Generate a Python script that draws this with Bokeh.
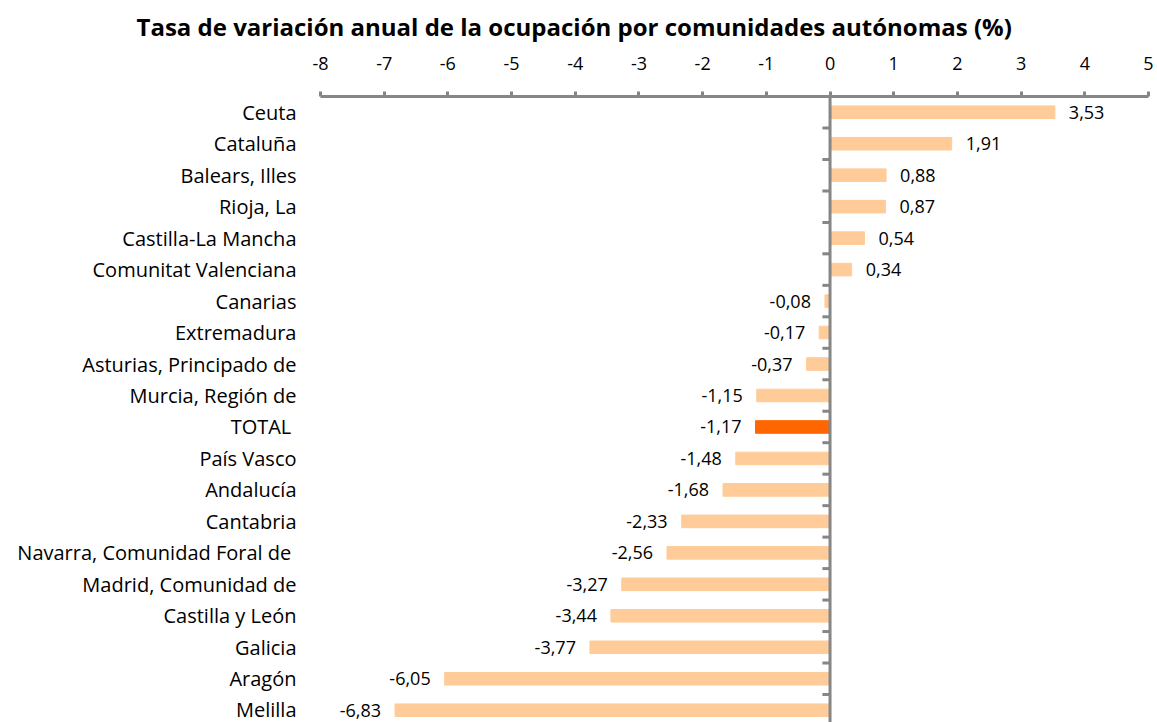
from bokeh.plotting import figure
from bokeh.models import ColumnDataSource, Range1d, FixedTicker, Span, Title
from bokeh.core.properties import value
from bokeh.embed import file_html
from bokeh.resources import INLINE

categories = ["Ceuta", "Cataluña", "Balears, Illes", "Rioja, La", "Castilla-La Mancha",
              "Comunitat Valenciana", "Canarias", "Extremadura", "Asturias, Principado de",
              "Murcia, Región de", "TOTAL ", "País Vasco", "Andalucía", "Cantabria",
              "Navarra, Comunidad  Foral de", "Madrid, Comunidad de", "Castilla y León",
              "Galicia", "Aragón", "Melilla"]
values = [3.53, 1.91, 0.88, 0.87, 0.54, 0.34, -0.08, -0.17, -0.37, -1.15, -1.17,
          -1.48, -1.68, -2.33, -2.56, -3.27, -3.44, -3.77, -6.05, -6.83]
x_ticks = [-8, -7, -6, -5, -4, -3, -2, -1, 0, 1, 2, 3, 4, 5]

LIGHT = "#FFCC99"
DARK = "#FF6600"
FONT = "Open Sans"

n = len(categories)
pos = list(range(n))
colors = [DARK if c.strip() == "TOTAL" else LIGHT for c in categories]
labels = [f"{v:.2f}".replace(".", ",") for v in values]
aligns = ["left" if v >= 0 else "right" for v in values]
offsets = [14 if v >= 0 else -14 for v in values]

src = ColumnDataSource(dict(y=pos, v=values, color=colors, label=labels,
                            align=aligns, off=offsets))

p = figure(width=1153, height=722, output_backend="svg", toolbar_location=None,
           x_range=Range1d(-8, 5), y_range=Range1d(19.39, -0.5),
           x_axis_location="above", min_border_left=320, min_border_right=5,
           min_border_top=0, min_border_bottom=0)

p.title = Title(text="Tasa de variación anual de la ocupación por comunidades autónomas (%)",
                text_font=FONT, text_font_size="24px", text_font_style="bold",
                align="left", vertical_align="top", offset=-184, standoff=18,
                text_color="black")

p.hbar(y="y", right="v", left=0, height=0.4, color="color", source=src)
p.text(x="v", y="y", text="label", x_offset="off", text_align="align",
       text_baseline="middle", text_font=value(FONT), text_font_size="18px",
       text_color="black", source=src)

# zero axis line with category separator ticks
p.add_layout(Span(location=0, dimension="height", line_color="#868686", line_width=3))
bounds = [i + 0.5 for i in range(-1, n)]
p.segment(x0=[-0.12] * len(bounds), x1=[0] * len(bounds), y0=bounds, y1=bounds,
          line_color="#868686", line_width=3)

xa = p.xaxis[0]
xa.ticker = FixedTicker(ticks=x_ticks)
xa.major_label_overrides = {t: str(t) for t in x_ticks}
xa.axis_line_color = "#868686"
xa.axis_line_width = 3
xa.major_tick_line_color = "#868686"
xa.major_tick_line_width = 3
xa.major_tick_out = 5
xa.major_tick_in = 0
xa.minor_tick_line_color = None
xa.major_label_standoff = 22
xa.major_label_text_font = FONT
xa.major_label_text_font_size = "18px"
xa.major_label_text_color = "black"

ya = p.yaxis[0]
ya.ticker = FixedTicker(ticks=pos)
ya.major_label_overrides = {i: c for i, c in enumerate(categories)}
ya.axis_line_color = None
ya.major_tick_line_color = None
ya.minor_tick_line_color = None
ya.major_tick_out = 0
ya.major_tick_in = 0
ya.major_label_standoff = 24
ya.major_label_text_font = FONT
ya.major_label_text_font_size = "20px"
ya.major_label_text_color = "black"

p.xgrid.visible = False
p.ygrid.visible = False
p.outline_line_color = None

open("out.html", "w").write(file_html(p, INLINE))
